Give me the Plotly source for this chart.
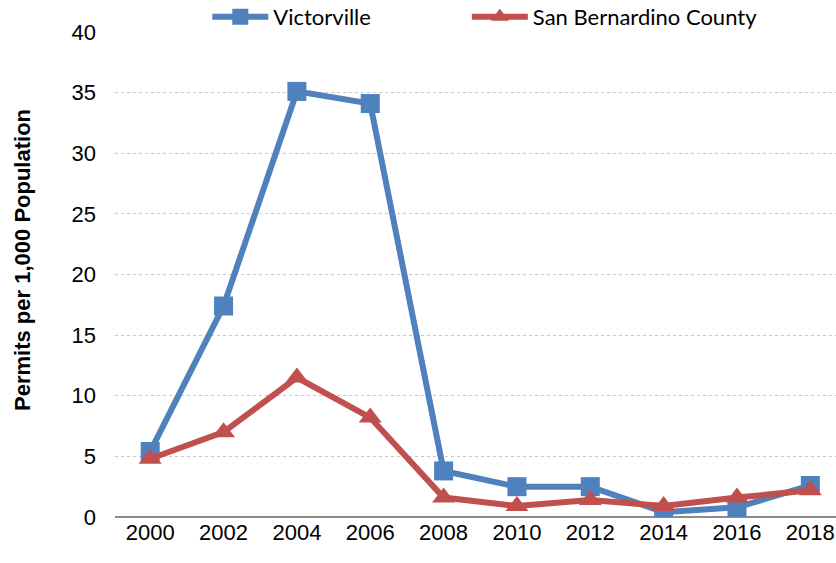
import plotly.graph_objects as go

years = ["2000", "2002", "2004", "2006", "2008", "2010", "2012", "2014", "2016", "2018"]
victorville = [5.4, 17.4, 35.1, 34.1, 3.8, 2.5, 2.5, 0.4, 0.8, 2.6]
sb_county = [4.8, 7.0, 11.5, 8.2, 1.6, 0.9, 1.4, 0.9, 1.6, 2.2]
y_ticks = [0, 5, 10, 15, 20, 25, 30, 35, 40]
y_title = "Permits per 1,000 Population"

TICKFONT = "Liberation Sans, Arial, sans-serif"
LEGFONT = dict(family="Lato, Carlito, sans-serif", size=22, color="black")

fig = go.Figure()
fig.add_trace(go.Scatter(
    x=years, y=victorville, name="Victorville", mode="lines+markers",
    line=dict(color="#4F81BD", width=6),
    marker=dict(symbol="square", size=19, color="#4F81BD"),
    legend="legend",
))
fig.add_trace(go.Scatter(
    x=years, y=sb_county, name="San Bernardino County", mode="lines+markers",
    line=dict(color="#C0504D", width=6),
    marker=dict(symbol="triangle-up", size=20, color="#C0504D"),
    legend="legend2",
))

fig.update_layout(
    width=836, height=563,
    margin=dict(l=115, r=0, t=32, b=46, autoexpand=False),
    paper_bgcolor="white", plot_bgcolor="white",
    showlegend=True,
    legend=dict(orientation="h", x=0.128, y=1.031, xanchor="left", yanchor="middle",
                font=LEGFONT, itemwidth=56),
    legend2=dict(orientation="h", x=0.488, y=1.031, xanchor="left", yanchor="middle",
                 font=LEGFONT, itemwidth=56),
    font=dict(family=TICKFONT, color="black"),
)
fig.add_annotation(
    text="<b>" + y_title + "</b>", textangle=-90,
    xref="paper", yref="paper", x=-0.1276, y=0.53,
    xanchor="center", yanchor="middle", showarrow=False,
    font=dict(size=22, family=TICKFONT, color="black"),
)
fig.update_xaxes(
    type="category", range=[-0.48, 9.35],
    showgrid=False, showline=False, ticks="",
    tickfont=dict(size=22, family=TICKFONT),
)
fig.update_yaxes(
    range=[0, 40], tickvals=y_ticks,
    showgrid=True, gridcolor="#C8C8C8", griddash="dot", gridwidth=1,
    zeroline=True, zerolinecolor="#8C8C8C", zerolinewidth=2,
    showline=False, ticks="", ticklabelstandoff=18,
    tickfont=dict(size=22, family=TICKFONT),
)

fig.write_html("out.html", config={"displayModeBar": False},
               post_script="document.body.style.margin='0';document.body.style.padding='0';")
